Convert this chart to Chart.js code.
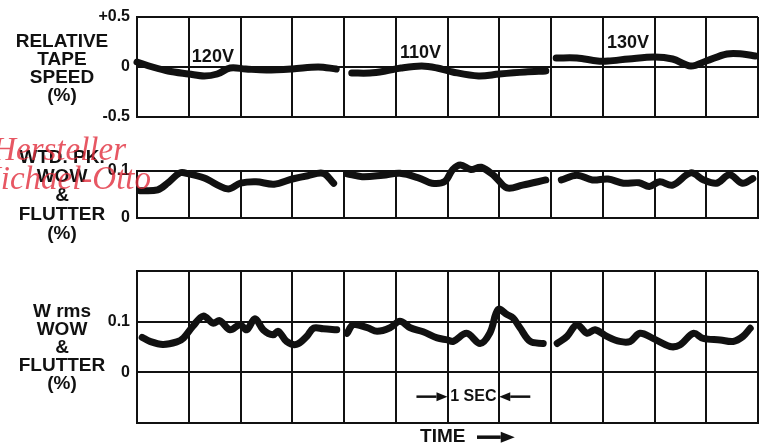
<!DOCTYPE html>
<html>
<head>
<meta charset="utf-8">
<script src="https://cdn.jsdelivr.net/npm/chart.js@4"></script>
<style>
  body { margin:0; background:#fff; width:769px; height:447px; overflow:hidden; position:relative; font-family:"Liberation Sans", Arial, sans-serif; }
  canvas { position:absolute; left:0; }
  .side { position:absolute; left:0; width:124px; text-align:center; font-weight:bold; font-size:19px; line-height:18px; color:#111; }
  .mark { position:absolute; font-family:"Liberation Serif", serif; font-style:italic; font-size:33px; line-height:33px; color:rgba(225,45,60,0.8); text-align:right; white-space:nowrap; }
</style>
</head>
<body>
<canvas id="speed" width="769" height="135" style="top:0"></canvas>
<canvas id="peak" width="769" height="100" style="top:135px"></canvas>
<canvas id="rms" width="769" height="212" style="top:235px"></canvas>

<div class="side" style="top:32px">RELATIVE<br>TAPE<br>SPEED<br>(%)</div>
<div class="side" style="top:147px;line-height:19px">WTD. PK.<br>WOW<br>&amp;<br>FLUTTER<br>(%)</div>
<div class="side" style="top:302px">W rms<br>WOW<br>&amp;<br>FLUTTER<br>(%)</div>

<div class="mark" style="left:-200px;width:326px;top:133px">Hersteller</div>
<div class="mark" style="left:-200px;width:351px;top:162px">Michael-Otto</div>

<script>
// time in seconds (one grid division = 1 sec), null = gap between supply voltages
const voltages = ['120V', '110V', '130V'];

const speedTime = [0, 0.3, 0.6, 1.0, 1.3, 1.55, 1.8, 2.1, 2.5, 3.0, 3.5, 3.85,
  4.0,
  4.15, 4.5, 4.8, 5.1, 5.5, 5.8, 6.1, 6.6, 7.0, 7.5, 7.9,
  8.0,
  8.1, 8.5, 8.9, 9.1, 9.5, 10.0, 10.35, 10.7, 11.0, 11.4, 11.7, 11.95];
const speedValue = [0.05, 0.0, -0.04, -0.07, -0.09, -0.07, -0.01, -0.02, -0.03, -0.02, 0.0, -0.02,
  null,
  -0.06, -0.06, -0.04, -0.01, 0.01, -0.01, -0.05, -0.09, -0.07, -0.05, -0.04,
  null,
  0.09, 0.09, 0.06, 0.06, 0.08, 0.1, 0.08, 0.01, 0.06, 0.13, 0.13, 0.11];

const peakTime = [0.06, 0.4, 0.6, 0.83, 1.0, 1.3, 1.75, 2.0, 2.3, 2.65, 3.0, 3.3, 3.6, 3.8,
  3.9,
  4.06, 4.35, 4.75, 5.08, 5.45, 5.7, 5.95, 6.1, 6.25, 6.45, 6.65, 6.9, 7.15, 7.45, 7.9,
  8.0,
  8.2, 8.5, 8.8, 9.1, 9.4, 9.7, 9.9, 10.1, 10.35, 10.7, 10.95, 11.2, 11.45, 11.7, 11.9];
const peakValue = [0.058, 0.06, 0.075, 0.096, 0.094, 0.085, 0.062, 0.074, 0.077, 0.072, 0.083, 0.09, 0.095, 0.074,
  null,
  0.094, 0.088, 0.091, 0.095, 0.085, 0.074, 0.078, 0.103, 0.113, 0.103, 0.108, 0.09, 0.064, 0.07, 0.081,
  null,
  0.081, 0.091, 0.081, 0.083, 0.074, 0.075, 0.067, 0.077, 0.07, 0.096, 0.081, 0.074, 0.092, 0.074, 0.084];

const rmsTime = [0.1, 0.25, 0.5, 0.77, 0.9, 1.08, 1.28, 1.47, 1.6, 1.8, 1.99, 2.12, 2.28, 2.44, 2.63, 2.73, 2.89, 3.08, 3.28, 3.41, 3.6, 3.86,
  3.95,
  4.06, 4.18, 4.45, 4.64, 4.89, 5.08, 5.28, 5.53, 5.8, 6.0, 6.11, 6.37, 6.63, 6.82, 6.98, 7.15, 7.27, 7.4, 7.6, 7.85,
  8.0,
  8.12, 8.31, 8.5, 8.7, 8.85, 9.08, 9.33, 9.53, 9.72, 9.97, 10.3, 10.49, 10.75, 10.94, 11.27, 11.52, 11.71, 11.85];
const rmsValue = [0.069, 0.061, 0.055, 0.06, 0.068, 0.091, 0.111, 0.097, 0.102, 0.084, 0.094, 0.084, 0.106, 0.084, 0.074, 0.081, 0.061, 0.055, 0.071, 0.087, 0.086, 0.084,
  null,
  0.077, 0.094, 0.088, 0.081, 0.088, 0.101, 0.088, 0.08, 0.068, 0.064, 0.061, 0.077, 0.057, 0.078, 0.124, 0.114, 0.107, 0.088, 0.061, 0.057,
  null,
  0.057, 0.071, 0.094, 0.077, 0.084, 0.071, 0.061, 0.061, 0.077, 0.067, 0.051, 0.054, 0.077, 0.067, 0.064, 0.061, 0.071, 0.087];

const speedTicks = [-0.5, 0, 0.5];
const speedTickLabels = ['-0.5', '0', '+0.5'];
const peakTicks = [0, 0.1];
const peakTickLabels = ['0', '0.1'];
const rmsTicks = [-0.1, 0, 0.1, 0.2];
const rmsTickLabels = ['', '0', '0.1', ''];

const ink = '#111';
const boldFont = size => 'bold ' + size + 'px "Liberation Sans", Arial, sans-serif';

// little plugin for the hand lettering inside the plots (voltages, 1 SEC, TIME)
const notesPlugin = {
  id: 'notes',
  afterDatasetsDraw(chart, args, opts) {
    const ctx = chart.ctx, x = chart.scales.x, y = chart.scales.y;
    ctx.save();
    ctx.fillStyle = ink;
    ctx.strokeStyle = ink;
    (opts.texts || []).forEach(t => {
      ctx.font = t.font;
      ctx.textAlign = t.align || 'left';
      ctx.textBaseline = 'middle';
      ctx.fillText(t.text, x.getPixelForValue(t.x), y.getPixelForValue(t.y));
    });
    (opts.arrows || []).forEach(a => {
      const x0 = x.getPixelForValue(a.from), x1 = x.getPixelForValue(a.to), yy = y.getPixelForValue(a.y);
      const dir = Math.sign(x1 - x0);
      ctx.lineWidth = a.width;
      ctx.beginPath();
      ctx.moveTo(x0, yy);
      ctx.lineTo(x1 - dir * a.head, yy);
      ctx.stroke();
      ctx.beginPath();
      ctx.moveTo(x1, yy);
      ctx.lineTo(x1 - dir * a.head, yy - a.half);
      ctx.lineTo(x1 - dir * a.head, yy + a.half);
      ctx.closePath();
      ctx.fill();
    });
    ctx.restore();
  }
};

function makeChart(id, times, values, yMin, yMax, tickValues, tickLabels, pad, notes) {
  return new Chart(document.getElementById(id), {
    type: 'line',
    data: {
      datasets: [{
        data: times.map((t, i) => ({ x: t, y: values[i] })),
        borderColor: ink,
        borderWidth: 7,
        borderCapStyle: 'round',
        borderJoinStyle: 'round',
        pointRadius: 0,
        tension: 0.35,
        clip: false
      }]
    },
    options: {
      responsive: false,
      animation: false,
      events: [],
      layout: { padding: { left: 0, right: 11, top: pad[0], bottom: pad[1] } },
      plugins: { legend: { display: false }, tooltip: { enabled: false }, notes: notes },
      scales: {
        x: {
          type: 'linear', min: 0, max: 12,
          ticks: { display: false, stepSize: 1 },
          grid: { color: ink, lineWidth: 2, drawTicks: false },
          border: { color: ink, width: 2 },
          afterFit: s => { s.height = 0; }
        },
        y: {
          min: yMin, max: yMax,
          afterBuildTicks: s => { s.ticks = tickValues.map(v => ({ value: v })); },
          ticks: {
            color: ink,
            font: { family: '"Liberation Sans", Arial, sans-serif', weight: 'bold', size: 16 },
            padding: 7,
            callback: (v, i) => tickLabels[i]
          },
          grid: { color: ink, lineWidth: 2, drawTicks: false },
          border: { color: ink, width: 2 },
          afterFit: s => { s.width = 137; }
        }
      }
    },
    plugins: [notesPlugin]
  });
}

makeChart('speed', speedTime, speedValue, -0.5, 0.5, speedTicks, speedTickLabels, [17, 18], {
  texts: [
    { text: voltages[0], x: 1.06, y: 0.10, font: boldFont(18) },
    { text: voltages[1], x: 5.08, y: 0.14, font: boldFont(18) },
    { text: voltages[2], x: 9.08, y: 0.24, font: boldFont(18) }
  ]
});

makeChart('peak', peakTime, peakValue, 0, 0.1, peakTicks, peakTickLabels, [36, 17], {});

makeChart('rms', rmsTime, rmsValue, -0.1, 0.2, rmsTicks, rmsTickLabels, [36, 24], {
  texts: [
    { text: '1 SEC', x: 6.5, y: -0.048, align: 'center', font: boldFont(16) },
    { text: 'TIME', x: 5.47, y: -0.128, font: boldFont(19) }
  ],
  arrows: [
    { from: 5.4, to: 6.0, y: -0.048, width: 2.5, head: 11, half: 4.5 },
    { from: 7.6, to: 7.0, y: -0.048, width: 2.5, head: 11, half: 4.5 },
    { from: 6.57, to: 7.3, y: -0.128, width: 3.5, head: 14, half: 5.5 }
  ]
});
</script>
</body>
</html>
